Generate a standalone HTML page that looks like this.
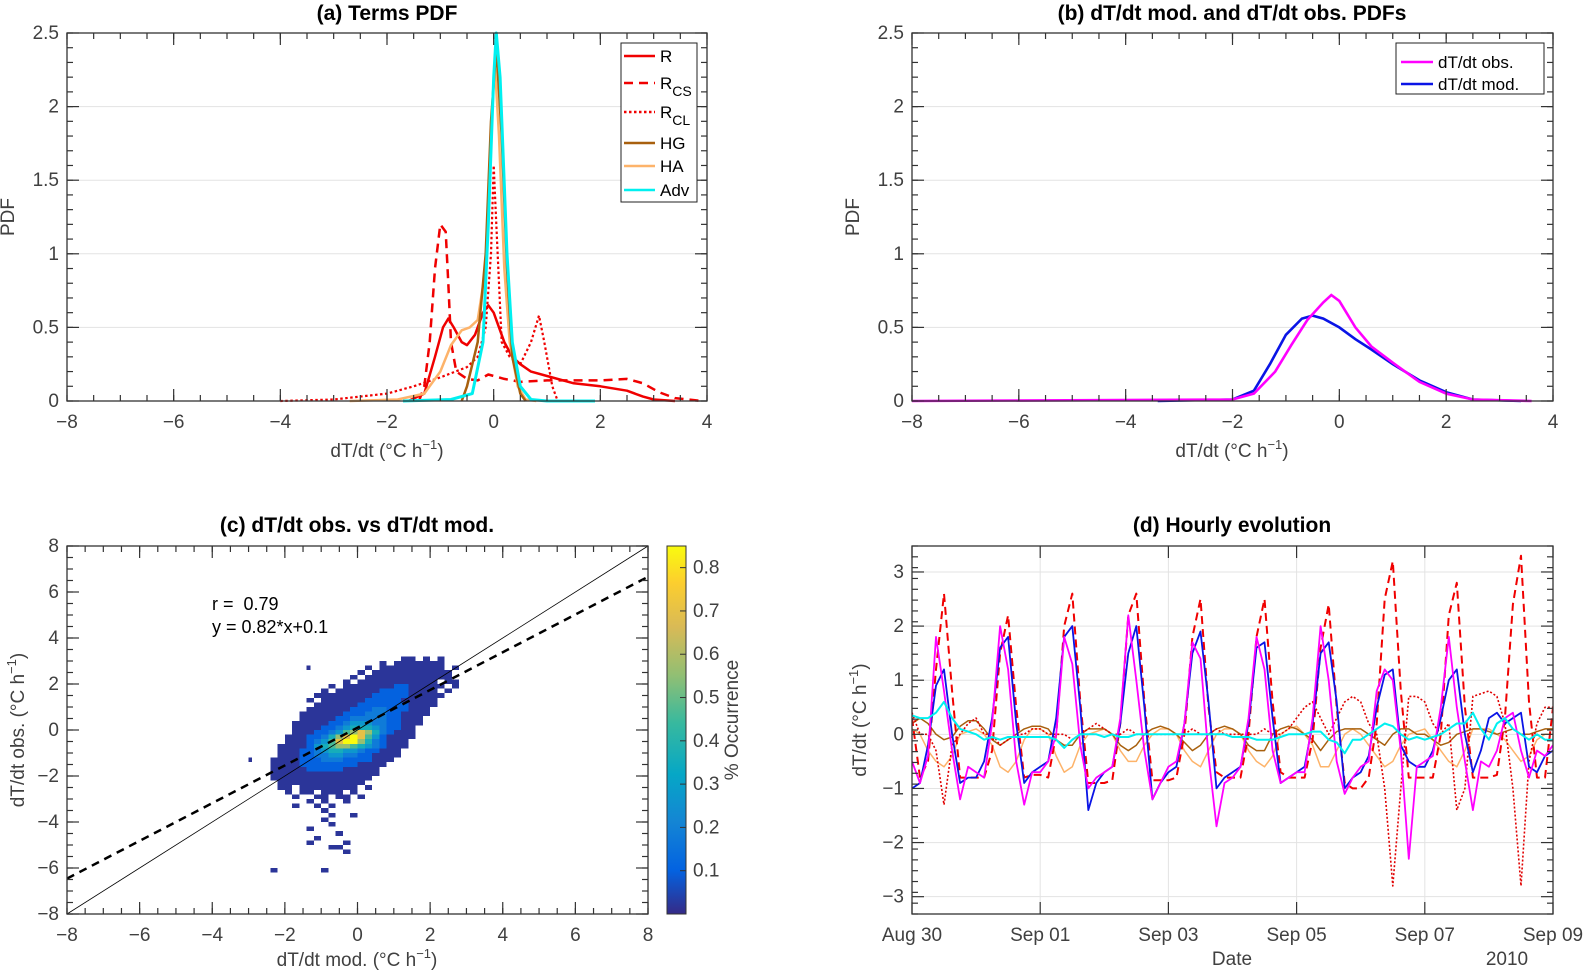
<!DOCTYPE html>
<html><head><meta charset="utf-8"><title>dT/dt analysis</title>
<style>
html,body{margin:0;padding:0;background:#fff;}
svg{display:block;font-family:"Liberation Sans",sans-serif;}
.tk{fill:#404040;font-size:19px;}
.ttl{fill:#000;font-size:21px;font-weight:bold;}
</style></head>
<body>
<svg id="fig" width="1592" height="976" viewBox="0 0 1592 976" xmlns="http://www.w3.org/2000/svg">
<defs>
<linearGradient id="parula" x1="0" y1="1" x2="0" y2="0">
<stop offset="0" stop-color="#352a87"/><stop offset="0.12" stop-color="#0363e1"/><stop offset="0.25" stop-color="#1485d4"/><stop offset="0.38" stop-color="#06a7c6"/><stop offset="0.52" stop-color="#38b99e"/><stop offset="0.65" stop-color="#92bf73"/><stop offset="0.78" stop-color="#d9ba56"/><stop offset="0.9" stop-color="#fcce2e"/><stop offset="1" stop-color="#f9fb0e"/>
</linearGradient>
</defs>
</svg>
<script>
// ---------- Panel (a) data ----------
const aR_x   = [-1.6,-1.3,-1.1,-0.95,-0.85,-0.75,-0.6,-0.5,-0.35,-0.2,-0.1,0,0.1,0.2,0.35,0.5,0.7,1,1.5,2,2.5,2.8,3,3.4];
const aR_y   = [0,0.05,0.3,0.5,0.56,0.5,0.4,0.38,0.45,0.6,0.65,0.6,0.5,0.4,0.3,0.25,0.2,0.17,0.12,0.1,0.07,0.03,0.01,0];
const aRCS_x = [-1.4,-1.3,-1.2,-1.1,-1.0,-0.9,-0.85,-0.8,-0.7,-0.5,-0.3,-0.1,0.2,0.5,1,1.5,2,2.5,2.8,3.1,3.4,3.9];
const aRCS_y = [0,0.1,0.4,0.9,1.2,1.15,0.8,0.4,0.2,0.15,0.14,0.18,0.15,0.13,0.14,0.14,0.14,0.15,0.12,0.06,0.02,0];
const aRCL_x = [-4,-3,-2,-1.5,-1,-0.5,-0.3,-0.15,-0.05,0,0.05,0.15,0.3,0.5,0.7,0.85,0.95,1.1,1.2];
const aRCL_y = [0,0.01,0.05,0.1,0.16,0.23,0.3,0.5,1.0,1.6,1.2,0.4,0.3,0.25,0.4,0.58,0.4,0.1,0];
const aHG_x  = [-0.6,-0.5,-0.3,-0.15,-0.05,0.05,0.15,0.25,0.35,0.5,0.6];
const aHG_y  = [0,0.1,0.4,1.0,1.9,2.4,1.8,0.9,0.3,0.05,0];
const aHA_x  = [-2.7,-1.8,-1.3,-1.0,-0.8,-0.6,-0.45,-0.3,-0.15,-0.05,0.02,0.1,0.2,0.3,0.45,0.6,0.8];
const aHA_y  = [0,0.01,0.05,0.2,0.38,0.48,0.5,0.55,0.9,1.8,2.3,1.8,0.9,0.4,0.1,0.01,0];
const aAdv_x = [-1.7,-0.8,-0.4,-0.2,-0.1,0,0.05,0.12,0.25,0.35,0.5,0.7,1,1.9];
const aAdv_y = [0,0.01,0.05,0.4,1.2,2.2,2.5,2.2,1.0,0.4,0.1,0.01,0,0];
const pdfTicksX = [-8,-6,-4,-2,0,2,4];
const pdfTicksY = [0,0.5,1,1.5,2,2.5];
const pdfTickLabY = ["0","0.5","1","1.5","2","2.5"];
// ---------- Panel (b) data ----------
const bObs_x = [-8,-2,-1.6,-1.2,-0.9,-0.6,-0.3,-0.15,0,0.3,0.6,1,1.5,2,2.5,3.6];
const bObs_y = [0,0.01,0.05,0.2,0.38,0.55,0.67,0.72,0.68,0.5,0.37,0.26,0.13,0.05,0.01,0];
const bMod_x = [-3.4,-2,-1.6,-1.3,-1.0,-0.7,-0.5,-0.3,0,0.3,0.6,1,1.5,2,2.5,3.4];
const bMod_y = [0,0.01,0.07,0.25,0.45,0.56,0.58,0.56,0.5,0.42,0.35,0.25,0.14,0.06,0.01,0];
// ---------- Panel (c) data: cols from x=-2.8 step 0.2; rows from y=3.4 step -0.2 ----------
const histLevels = [
"0000000000000000000000000000",
"0000000000000000000011010100",
"0000000000000000010111111100",
"0000000000000001011111111101",
"0000000000000010111111111110",
"0000000000000101111111111110",
"0000000000001011111111111011",
"0000000000101111111221111101",
"0000000001011111122221111010",
"0000000011111111222221111100",
"0000000101111112222211111000",
"0000000011111122222221111000",
"0000000111111222332221110000",
"0000001111112223332211110000",
"0000001111122333332211100000",
"0000011111223444332211100000",
"0000011112234555432211000000",
"0000011122346787532111000000",
"0000111223578986421111000000",
"0000111234689975321110000000",
"0001111245677654321110000000",
"0001112234554432211100000000",
"0001112233443322111100000000",
"0011112223332222111000000000",
"0011112222222211110000000000",
"0011111222221111100000000000",
"0011111111111111100000000000",
"0011111111111111000000000000",
"0001111111111110000000000000",
"0001101111111101000000000000",
"0000101101110100000000000000",
"0000010011011010000000000000",
"0000000101001000000000000000",
"0000010010100000000000000000",
"0000000001000000000000000000",
"0000000000100100000000000000",
"0000000001000000000000000000",
"0000000000100000000000000000",
"0000000100000000000000000000",
"0000000000010000000000000000",
"0000000010000000000000000000",
"0000000100001000000000000000",
"0000000000110000000000000000",
"0000000000001000000000000000",
"0000000000000000000000000000",
"0000000000000000000000000000",
"0000000000000000000000000000",
"0010000001000000000000000000"];
const histX0 = [-2.8];
const levelValues = [0,0.02,0.1,0.18,0.27,0.36,0.46,0.56,0.7,0.85];
const outlierX = [-3.0,-1.4];
const outlierY = [-1.2,2.8];
const fitSlope = [0.82];
const fitIntercept = [0.1];
const cbTicks = [0.1,0.2,0.3,0.4,0.5,0.6,0.7,0.8];
const scatTicks = [-8,-6,-4,-2,0,2,4,6,8];
// ---------- Panel (d) data: 3-hourly ----------
const dRCS = [0.3,-0.8,-0.5,1.2,2.6,0.8,-0.8,-0.8, -0.8,-0.8,-0.3,1.5,2.2,0.5,-0.8,-0.75, -0.75,-0.8,0.0,2.0,2.6,0.6,-0.9,-0.9, -0.9,-0.85,0.2,2.2,2.6,0.6,-0.85,-0.85, -0.85,-0.8,0.0,1.8,2.5,0.5,-0.7,-0.8, -0.8,-0.8,0.0,1.8,2.5,0.6,-0.7,-0.8, -0.8,-0.8,-0.1,1.6,2.4,0.5,-0.9,-1.0, -1.0,-0.8,0.2,2.5,3.2,0.8,-0.8,-0.8, -0.8,-0.8,0.0,2.2,2.8,0.5,-0.8,-0.8, -0.8,-0.75,0.3,2.4,3.3,0.6,-0.8,-0.8, 0.5];
const dObs = [-0.5,-0.9,-0.4,1.8,0.8,-0.3,-1.2,-0.6, -0.7,-0.8,0.2,2.0,1.2,-0.5,-1.3,-0.7, -0.7,-0.5,0.0,1.8,1.3,-0.2,-1.0,-0.8, -0.7,-0.6,0.3,2.2,1.0,-0.3,-1.2,-0.9, -0.6,-0.5,0.2,1.7,1.4,-0.4,-1.7,-0.9, -0.8,-0.6,0.3,1.8,1.2,-0.3,-0.9,-0.8, -0.7,-0.7,0.3,2.0,1.0,-0.5,-1.1,-0.8, -0.6,-0.5,0.8,1.2,1.0,-0.3,-2.3,-0.6, -0.5,-0.4,0.5,1.8,0.5,-0.5,-1.4,-0.5, -0.6,-0.3,0.3,0.4,-0.3,-0.8,-0.3,-0.4, -0.2];
const dMod = [-1.0,-0.9,-0.2,0.9,1.2,0.0,-0.9,-0.8, -0.8,-0.5,0.3,1.6,1.8,0.2,-0.9,-0.7, -0.6,-0.5,0.3,1.8,2.0,0.5,-1.4,-0.9, -0.7,-0.6,0.2,1.5,2.0,0.5,-1.2,-0.9, -0.7,-0.6,0.2,1.5,1.9,0.6,-1.0,-0.8, -0.7,-0.6,0.2,1.6,1.7,0.3,-0.9,-0.8, -0.7,-0.6,0.2,1.5,1.7,0.6,-1.0,-0.8, -0.7,-0.4,0.5,1.1,1.2,-0.2,-0.5,-0.6, -0.6,-0.3,0.3,1.0,1.2,0.0,-0.7,-0.3, 0.3,0.4,0.2,0.3,0.4,-0.6,-0.7,-0.4, -0.3];
const dRCL = [0.4,0.0,0.0,-0.3,-1.3,-0.2,0.0,0.2, 0.3,0.0,0.0,-0.2,-0.1,0.0,0.0,0.1, 0.1,0.0,0.0,0.0,-0.1,0.0,0.1,0.2, 0.1,0.0,0.0,0.1,0.0,0.0,0.0,0.0, 0.0,0.0,0.0,0.1,0.0,0.0,0.1,0.0, 0.0,0.0,0.0,0.0,0.1,0.0,0.0,0.1, 0.3,0.5,0.6,0.3,0.0,0.3,0.6,0.7, 0.6,0.2,0.0,-1.0,-2.8,-1.0,0.7,0.7, 0.6,0.2,0.0,0.2,-1.4,-1.0,0.7,0.75, 0.8,0.7,0.2,-1.0,-2.8,-0.5,0.2,0.5, 0.5];
const dHG = [0.2,0.3,0.2,0.0,-0.1,-0.05,0.15,0.25, 0.25,0.1,-0.1,-0.2,-0.1,0.0,0.1,0.15, 0.15,0.1,-0.1,-0.2,-0.2,0.0,0.1,0.1, 0.1,0.0,-0.2,-0.3,-0.2,0.0,0.1,0.15, 0.1,0.0,-0.15,-0.3,-0.2,0.0,0.1,0.15, 0.1,0.0,-0.2,-0.3,-0.3,0.0,0.1,0.15, 0.1,0.0,-0.1,-0.3,-0.1,0.05,0.1,0.1, 0.1,0.0,-0.1,-0.2,0.0,0.1,0.1,0.0, 0.0,-0.1,-0.2,-0.15,0.0,0.05,0.1,0.1, 0.05,0.0,0.05,0.1,0.0,0.0,0.05,0.1, 0.1];
const dHA = [0.1,0.0,-0.3,-0.5,-0.6,-0.4,0.0,0.05, 0.1,0.0,-0.2,-0.6,-0.7,-0.5,-0.1,0.1, 0.1,0.0,-0.4,-0.7,-0.6,-0.2,0.0,0.05, 0.1,0.0,-0.3,-0.5,-0.5,-0.2,0.0,0.1, 0.1,0.0,-0.3,-0.5,-0.6,-0.3,0.0,0.1, 0.1,0.0,-0.3,-0.5,-0.6,-0.4,0.0,0.1, 0.15,0.0,-0.2,-0.6,-0.6,-0.3,0.0,0.1, 0.0,-0.2,-0.4,-0.6,-0.5,-0.2,0.0,0.05, 0.1,-0.1,-0.3,-0.5,-0.6,-0.3,0.1,0.1, 0.1,0.0,-0.1,-0.3,-0.5,-0.4,-0.1,0.0, 0.0];
const dAdv = [0.35,0.3,0.3,0.4,0.6,0.3,0.1,0.05, 0.0,-0.1,-0.05,-0.1,-0.05,-0.05,-0.05,-0.05, -0.05,-0.05,-0.1,-0.25,-0.1,0.0,0.0,0.0, -0.05,0.0,-0.05,-0.05,0.0,0.0,0.0,0.0, 0.0,0.0,0.0,0.0,0.0,0.0,0.0,0.0, -0.05,-0.05,-0.05,-0.1,-0.1,-0.1,-0.05,0.0, 0.0,0.0,0.05,0.05,-0.1,-0.15,-0.35,-0.1, -0.1,0.0,0.1,0.2,0.15,0.0,-0.1,-0.05, -0.1,-0.05,0.0,0.1,0.2,0.2,0.4,0.1, -0.1,0.2,0.3,0.1,0.0,-0.1,0.0,-0.1, -0.1];
const dateTickDays = [0,2,4,6,8,10];
const dateTickLabels = ["Aug 30","Sep 01","Sep 03","Sep 05","Sep 07","Sep 09"];
const dTicksY = [-3,-2,-1,0,1,2,3];

const NS = "http://www.w3.org/2000/svg";
const svg = document.getElementById('fig');
function mk(parent, tag, attrs, name, inter) {
  const e = document.createElementNS(NS, tag);
  for (const k in attrs) e.setAttribute(k, attrs[k]);
  
  
  parent.appendChild(e);
  return e;
}
function txt(parent, x, y, s, cls, name, anchor, extra) {
  const a = Object.assign({x: x, y: y, class: cls, 'text-anchor': anchor || 'middle'}, extra || {});
  const t = mk(parent, 'text', a, name, false);
  t.textContent = s;
  return t;
}
function lin(a, b, c, d) { return v => c + (v - a) * (d - c) / (b - a); }
function pathD(xs, ys, sx, sy) {
  return xs.map((x, i) => (i ? 'L' : 'M') + sx(x).toFixed(1) + ',' + sy(ys[i]).toFixed(1)).join(' ');
}
function axes(g, o) {
  const sx = lin(o.xmin, o.xmax, o.x0, o.x1), sy = lin(o.ymin, o.ymax, o.y1, o.y0);
  mk(g, 'rect', {x: o.x0, y: o.y0, width: o.x1 - o.x0, height: o.y1 - o.y0, fill: '#fff'}, 'plot-area', false);
  if (o.ygrid) o.yt.forEach(v => { mk(g, 'line', {x1: o.x0, x2: o.x1, y1: sy(v), y2: sy(v), stroke: '#e3e3e3', 'stroke-width': 1}, 'y-gridline', false); });
  if (o.xgrid) o.xt.forEach(v => { mk(g, 'line', {x1: sx(v), x2: sx(v), y1: o.y0, y2: o.y1, stroke: '#e3e3e3', 'stroke-width': 1}, 'x-gridline', false); });
  return {sx, sy};
}
function frame(g, o, sx, sy) {
  const tk = mk(g, 'g', {stroke: '#333', 'stroke-width': 1.2}, 'ticks', false);
  if (o.xminor) for (let v = o.xmin; v <= o.xmax + 1e-9; v += o.xminor) {
    mk(tk, 'line', {x1: sx(v), x2: sx(v), y1: o.y1, y2: o.y1 - 6}, 'x-minor-tick', false);
    mk(tk, 'line', {x1: sx(v), x2: sx(v), y1: o.y0, y2: o.y0 + 6}, 'x-minor-tick', false);
  }
  if (o.yminor) for (let v = o.ymin; v <= o.ymax + 1e-9; v += o.yminor) {
    mk(tk, 'line', {x1: o.x0, x2: o.x0 + 6, y1: sy(v), y2: sy(v)}, 'y-minor-tick', false);
    mk(tk, 'line', {x1: o.x1, x2: o.x1 - 6, y1: sy(v), y2: sy(v)}, 'y-minor-tick', false);
  }
  o.xt.forEach(v => {
    mk(tk, 'line', {x1: sx(v), x2: sx(v), y1: o.y1, y2: o.y1 - 12}, 'x-major-tick', false);
    mk(tk, 'line', {x1: sx(v), x2: sx(v), y1: o.y0, y2: o.y0 + 12}, 'x-major-tick', false);
  });
  o.yt.forEach(v => {
    mk(tk, 'line', {x1: o.x0, x2: o.x0 + 12, y1: sy(v), y2: sy(v)}, 'y-major-tick', false);
    mk(tk, 'line', {x1: o.x1, x2: o.x1 - 12, y1: sy(v), y2: sy(v)}, 'y-major-tick', false);
  });
  mk(g, 'rect', {x: o.x0, y: o.y0, width: o.x1 - o.x0, height: o.y1 - o.y0, fill: 'none', stroke: '#333', 'stroke-width': 1.3}, 'axes-frame', false);
  o.xt.forEach((v, i) => { txt(g, sx(v), o.y1 + 27, o.xl ? o.xl[i] : String(v).replace('-', '\u2212'), 'tk', 'x-tick-label'); });
  o.yt.forEach((v, i) => { txt(g, o.x0 - 8, sy(v) + 6, o.yl ? o.yl[i] : String(v).replace('-', '\u2212'), 'tk', 'y-tick-label', 'end'); });
}
function unitLabel(g, x, y, pre, name, rot) {
  const t = mk(g, 'text', {x: x, y: y, class: 'tk', 'text-anchor': 'middle', transform: rot ? 'rotate(-90 ' + x + ' ' + y + ')' : ''}, name, false);
  t.appendChild(document.createTextNode(pre + ' (\u00b0C h'));
  const s = document.createElementNS(NS, 'tspan'); s.setAttribute('dy', -8); s.setAttribute('font-size', 13); s.textContent = '\u22121'; t.appendChild(s);
  const s2 = document.createElementNS(NS, 'tspan'); s2.setAttribute('dy', 8); s2.textContent = ')'; t.appendChild(s2);
}
const RED = '#f00000', HGC = '#a8600e', HAC = '#fdb36a', CY = '#00f0f0';

// ===== Panel (a) =====
(function(){
  const g = mk(svg, 'g', {}, 'panel-a-terms-pdf', false);
  const o = {x0: 67, x1: 707, y0: 33, y1: 401, xmin: -8, xmax: 4, ymin: 0, ymax: 2.5, xt: pdfTicksX, yt: pdfTicksY, yl: pdfTickLabY, xminor: 0.5, yminor: 0.1, ygrid: true};
  const {sx, sy} = axes(g, o);
  const series = [[aRCL_x, aRCL_y, RED, 2.2, '2.5,2.5', 'series-r-cl'], [aRCS_x, aRCS_y, RED, 2.5, '9,6', 'series-r-cs'], [aR_x, aR_y, RED, 2.5, '', 'series-r'], [aHA_x, aHA_y, HAC, 2.5, '', 'series-ha'], [aHG_x, aHG_y, HGC, 2.5, '', 'series-hg'], [aAdv_x, aAdv_y, CY, 3, '', 'series-adv']];
  series.forEach(s => { mk(g, 'path', {d: pathD(s[0], s[1], sx, sy), fill: 'none', stroke: s[2], 'stroke-width': s[3], 'stroke-dasharray': s[4], 'stroke-linejoin': 'round'}, s[5], false); });
  frame(g, o, sx, sy);
  txt(g, 387, 20, '(a) Terms PDF', 'ttl', 'panel-a-title');
  txt(g, 14, 217, 'PDF', 'tk', 'y-axis-title', 'middle', {transform: 'rotate(-90 14 217)'});
  unitLabel(g, 387, 457, 'dT/dt', 'x-axis-title', false);
  const L = mk(g, 'g', {}, 'legend', false);
  mk(L, 'rect', {x: 621, y: 43, width: 76, height: 159, fill: '#fff', stroke: '#222', 'stroke-width': 1}, 'legend-box', false);
  const ent = [['R', '', RED, '', 56], ['R', 'CS', RED, '9,6', 83], ['R', 'CL', RED, '2.5,2.5', 112], ['HG', '', HGC, '', 143], ['HA', '', HAC, '', 166], ['Adv', '', CY, '', 190]];
  ent.forEach(e => {
    const eg = mk(L, 'g', {}, 'legend-entry', false);
    mk(eg, 'line', {x1: 624, x2: 655, y1: e[4], y2: e[4], stroke: e[2], 'stroke-width': 2.5, 'stroke-dasharray': e[3]}, 'legend-line', false);
    const t = mk(eg, 'text', {x: 660, y: e[4] + 6, fill: '#000', 'font-size': 17}, 'legend-label', false);
    t.textContent = e[0];
    if (e[1]) { const s = document.createElementNS(NS, 'tspan'); s.setAttribute('dy', 7); s.setAttribute('font-size', 14); s.textContent = e[1]; t.appendChild(s); }
  });
})();

// ===== Panel (b) =====
(function(){
  const g = mk(svg, 'g', {}, 'panel-b-pdfs', false);
  const o = {x0: 912, x1: 1553, y0: 33, y1: 401, xmin: -8, xmax: 4, ymin: 0, ymax: 2.5, xt: pdfTicksX, yt: pdfTicksY, yl: pdfTickLabY, xminor: 0.5, yminor: 0.1, ygrid: true};
  const {sx, sy} = axes(g, o);
  mk(g, 'path', {d: pathD(bMod_x, bMod_y, sx, sy), fill: 'none', stroke: '#0a14e6', 'stroke-width': 2.6}, 'series-dtdt-mod', false);
  mk(g, 'path', {d: pathD(bObs_x, bObs_y, sx, sy), fill: 'none', stroke: '#ff00ff', 'stroke-width': 2.6}, 'series-dtdt-obs', false);
  frame(g, o, sx, sy);
  txt(g, 1232, 20, '(b) dT/dt mod. and dT/dt obs. PDFs', 'ttl', 'panel-b-title');
  txt(g, 859, 217, 'PDF', 'tk', 'y-axis-title', 'middle', {transform: 'rotate(-90 859 217)'});
  unitLabel(g, 1232, 457, 'dT/dt', 'x-axis-title', false);
  const L = mk(g, 'g', {}, 'legend', false);
  mk(L, 'rect', {x: 1396, y: 43, width: 148, height: 51, fill: '#fff', stroke: '#222', 'stroke-width': 1}, 'legend-box', false);
  [['dT/dt obs.', '#ff00ff', 62], ['dT/dt mod.', '#0a14e6', 84]].forEach(e => {
    const eg = mk(L, 'g', {}, 'legend-entry', false);
    mk(eg, 'line', {x1: 1401, x2: 1433, y1: e[2], y2: e[2], stroke: e[1], 'stroke-width': 2.6}, 'legend-line', false);
    txt(eg, 1438, e[2] + 6, e[0], '', 'legend-label', 'start', {'font-size': 17, fill: '#000'});
  });
})();

// ===== Panel (c) =====
function parula(t) {
  const st = [[0,[53,42,135]],[0.12,[3,99,225]],[0.25,[20,133,212]],[0.38,[6,167,198]],[0.52,[56,185,158]],[0.65,[146,191,115]],[0.78,[217,186,86]],[0.9,[252,206,46]],[1,[249,251,14]]];
  t = Math.max(0, Math.min(1, t));
  for (let i = 1; i < st.length; i++) if (t <= st[i][0]) {
    const f = (t - st[i-1][0]) / (st[i][0] - st[i-1][0]);
    const c = st[i-1][1].map((v, k) => Math.round(v + f * (st[i][1][k] - v)));
    return 'rgb(' + c.join(',') + ')';
  }
  return 'rgb(249,251,14)';
}
(function(){
  const g = mk(svg, 'g', {}, 'panel-c-scatter-density', false);
  const o = {x0: 67, x1: 648, y0: 546, y1: 914, xmin: -8, xmax: 8, ymin: -8, ymax: 8, xt: scatTicks, yt: scatTicks, xminor: 0.5, yminor: 0.5};
  const {sx, sy} = axes(g, o);
  const cells = mk(g, 'g', {'shape-rendering': 'crispEdges'}, 'density-cells', false);
  const cmax = 0.85;
  histLevels.forEach((row, j) => {
    const yt = 3.4 - 0.2 * j;
    for (let i = 0; i < row.length; i++) {
      const L = +row[i]; if (!L) continue;
      const x = histX0[0] + 0.2 * i;
      mk(cells, 'rect', {x: sx(x).toFixed(1), y: sy(yt).toFixed(1), width: (sx(x + 0.2) - sx(x)).toFixed(1), height: (sy(yt - 0.2) - sy(yt)).toFixed(1), fill: parula(levelValues[L] / cmax)}, 'density-cell', false);
    }
  });
  outlierX.forEach((x, i) => { mk(cells, 'rect', {x: sx(x), y: sy(outlierY[i]), width: 3.6, height: 4.6, fill: parula(0.02)}, 'density-cell', false); });
  mk(g, 'line', {x1: sx(-8), y1: sy(-8), x2: sx(8), y2: sy(8), stroke: '#000', 'stroke-width': 0.8}, 'one-to-one-line', false);
  const f = x => fitSlope[0] * x + fitIntercept[0];
  mk(g, 'line', {x1: sx(-8), y1: sy(f(-8)), x2: sx(8), y2: sy(f(8)), stroke: '#000', 'stroke-width': 2.5, 'stroke-dasharray': '8,6'}, 'regression-line', false);
  frame(g, o, sx, sy);
  txt(g, 212, 610, 'r =  0.79', '', 'correlation-text', 'start', {'font-size': 18, fill: '#000', 'xml:space': 'preserve', style: 'white-space:pre'});
  txt(g, 212, 633, 'y = 0.82*x+0.1', '', 'regression-equation', 'start', {'font-size': 18, fill: '#000'});
  txt(g, 357, 532, '(c) dT/dt obs. vs dT/dt mod.', 'ttl', 'panel-c-title');
  unitLabel(g, 357, 966, 'dT/dt mod.', 'x-axis-title', false);
  unitLabel(g, 24, 730, 'dT/dt obs.', 'y-axis-title', true);
  const cb = mk(g, 'g', {}, 'colorbar', false);
  const cy = lin(0, 0.85, 914, 546);
  mk(cb, 'rect', {x: 667, y: 546, width: 19, height: 368, fill: 'url(#parula)', stroke: '#333', 'stroke-width': 1}, 'colorbar-gradient', false);
  cbTicks.forEach(v => {
    mk(cb, 'line', {x1: 680, x2: 686, y1: cy(v), y2: cy(v), stroke: '#333', 'stroke-width': 1}, 'colorbar-tick', false);
    txt(cb, 693, cy(v) + 6, v.toFixed(1), 'tk', 'colorbar-tick-label', 'start');
  });
  txt(cb, 738, 720, '% Occurrence', 'tk', 'colorbar-title', 'middle', {transform: 'rotate(-90 738 720)'});
})();

// ===== Panel (d) =====
(function(){
  const g = mk(svg, 'g', {}, 'panel-d-hourly-evolution', false);
  const o = {x0: 912, x1: 1553, y0: 546, y1: 914, xmin: 0, xmax: 10, ymin: -3.32, ymax: 3.48, xt: dateTickDays, yt: dTicksY, xl: dateTickLabels, yminor: 0.2, xgrid: true, ygrid: true};
  const {sx, sy} = axes(g, o);
  const tt = dRCS.map((v, i) => i / 8);
  const clip = mk(svg.querySelector('defs'), 'clipPath', {id: 'clipD'}, 'clip-d', false);
  mk(clip, 'rect', {x: 912, y: 546, width: 641, height: 368}, 'clip-rect', false);
  const lg = mk(g, 'g', {'clip-path': 'url(#clipD)', fill: 'none', 'stroke-linejoin': 'round'}, 'series-lines', false);
  [[dHA, HAC, 1.5, '', 'series-ha'], [dHG, HGC, 1.5, '', 'series-hg'], [dRCL, '#e00000', 1.6, '2,2', 'series-r-cl'], [dRCS, RED, 2, '8,5', 'series-r-cs'], [dMod, '#0a14e6', 1.8, '', 'series-dtdt-mod'], [dObs, '#ff00ff', 1.8, '', 'series-dtdt-obs'], [dAdv, CY, 2, '', 'series-adv']].forEach(s => {
    mk(lg, 'path', {d: pathD(tt, s[0], sx, sy), stroke: s[1], 'stroke-width': s[2], 'stroke-dasharray': s[3]}, s[4], false);
  });
  frame(g, o, sx, sy);
  txt(g, 1232, 532, '(d) Hourly evolution', 'ttl', 'panel-d-title');
  txt(g, 1232, 965, 'Date', 'tk', 'x-axis-title');
  txt(g, 1507, 965, '2010', 'tk', 'year-label');
  unitLabel(g, 866, 720, 'dT/dt', 'y-axis-title', true);
})();
</script>
</body></html>
